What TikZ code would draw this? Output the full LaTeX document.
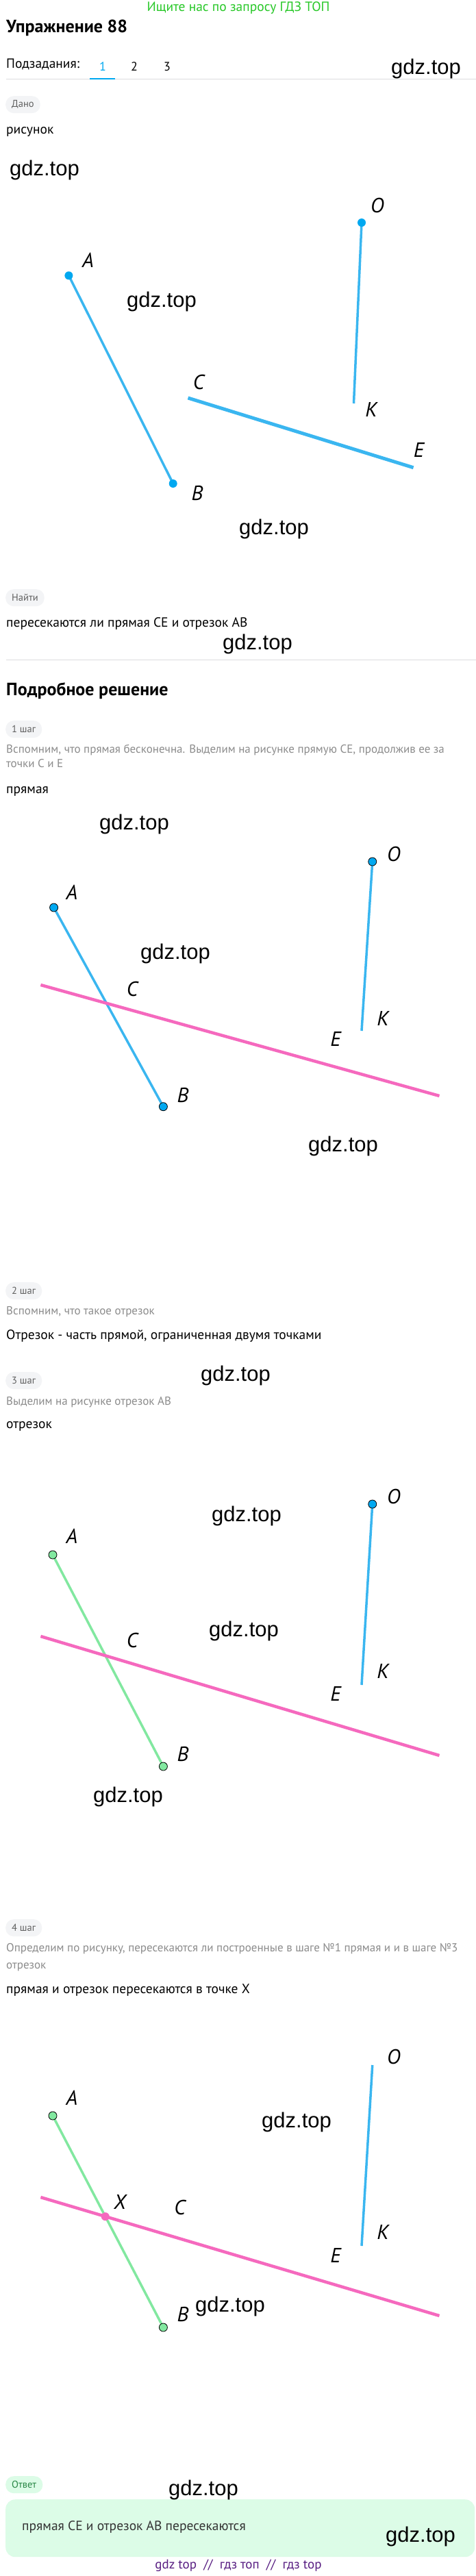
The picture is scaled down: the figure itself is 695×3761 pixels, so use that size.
\documentclass[tikz,border=0pt]{standalone}
\usepackage{fontspec}
\setmainfont{PT Sans}
\newfontfamily\wmfont{Liberation Sans}
\definecolor{segblue}{RGB}{58,182,240}
\definecolor{dotblue}{RGB}{0,168,240}
\definecolor{pinkln}{RGB}{245,105,190}
\definecolor{greenln}{RGB}{130,232,160}
\definecolor{pillgray}{RGB}{243,244,246}
\definecolor{pilltext}{RGB}{95,95,95}
\definecolor{notegray}{RGB}{140,140,140}
\definecolor{topgreen}{RGB}{40,200,40}
\definecolor{footpurple}{RGB}{88,30,130}
\definecolor{answerbg}{RGB}{220,252,231}
\definecolor{answertext}{RGB}{40,135,70}

\begin{document}
\begin{tikzpicture}[x=1pt,y=-1pt,
    pill/.style={fill=pillgray, text=pilltext, rounded corners=12pt, anchor=north west,
        minimum height=25pt, inner xsep=9pt, font=\fontsize{14.5}{16}\selectfont},
    body/.style={anchor=mid west, inner sep=0pt, font=\fontsize{19.5}{22}\selectfont},
    note/.style={body, text=notegray, font=\fontsize{17}{20}\selectfont},
    heading/.style={body, font=\bfseries\fontsize{26}{29}\selectfont},
    wm/.style={font=\wmfont\fontsize{31}{33}\selectfont, inner sep=0pt},
    lbl/.style={font=\itshape\fontsize{30}{32}\selectfont, inner sep=0pt},
    seg/.style={segblue, line width=3.5pt},
    greenseg/.style={greenln, line width=3.5pt},
    pinkseg/.style={pinkln, line width=4.5pt},
    ptdot/.style={circle, fill=dotblue, inner sep=0pt, minimum size=12pt},
    odot/.style={ptdot, draw=black, line width=0.8pt},
    gdot/.style={odot, fill=greenln}]
    \useasboundingbox[fill=white] (0,0) rectangle (695,3761);

    % Header
    \node[font=\fontsize{19.5}{21}\selectfont, text=topgreen] (ads) at (348,12) {Ищите нас по запросу ГДЗ ТОП};
    \node[heading] (title) at (9,45) {Упражнение 88};
    \node[body] (subs) at (9,97) {Подзадания:};
    \node[font=\fontsize{18}{20}\selectfont, text=dotblue] (tab1) at (150,97) {1};
    \node[font=\fontsize{18}{20}\selectfont] (tab2) at (196,97) {2};
    \node[font=\fontsize{18}{20}\selectfont] (tab3) at (244,97) {3};
    \coordinate (tabl) at (9,115);
    \coordinate (tabr) at (695,115);
    \draw[pillgray!80!gray, line width=1pt] (tabl) -- (tabr);
    \draw[dotblue, line width=2.5pt] (131,115) -- (168,115); % active tab
    \node[wm] (wm1) at (622,100) {gdz.top};

    % Given
    \node[pill] (given) at (8,140) {Дано};
    \node[body] (picture) at (9,193) {рисунок};
    \node[wm] (wm2) at (65,248) {gdz.top};

    % Figure 1
    \coordinate (A0) at (100.4,402.3);
    \coordinate (B0) at (252.7,706);
    \coordinate (C0) at (274.5,581);
    \coordinate (E0) at (603.6,682.7);
    \coordinate (O0) at (528,325);
    \coordinate (K0) at (516.5,589);
    \draw[seg] (A0) -- (B0);
    \draw[seg, line width=5pt] (C0) -- (E0);
    \draw[seg] (O0) -- (K0);
    \node[ptdot] (dA0) at (A0) {};
    \node[ptdot] (dB0) at (B0) {};
    \node[ptdot] (dO0) at (O0) {};
    \node[lbl] (lA0) at (128.6,380) {A};
    \node[lbl] (lB0) at (288,720) {B};
    \node[lbl] (lC0) at (290,558) {C};
    \node[lbl] (lE0) at (611.6,657) {E};
    \node[lbl] (lO0) at (551,300) {O};
    \node[lbl] (lK0) at (542,598) {K};
    \node[wm] (wm3) at (236,440) {gdz.top};
    \node[wm] (wm4) at (400,772) {gdz.top};

    % Find
    \node[pill] (find) at (8,860) {Найти};
    \node[body] (question) at (9,913) {пересекаются ли прямая CE и отрезок AB};
    \node[wm] (wm5) at (376,940) {gdz.top};
    \coordinate (sepl) at (9,963);
    \coordinate (sepr) at (695,963);
    \draw[pillgray!80!gray, line width=1pt] (sepl) -- (sepr);

    % Step 1
    \node[heading] (solution) at (9,1013) {Подробное решение};
    \node[pill] (step1) at (8,1052) {1 шаг};
    \node[note] (note1a) at (9,1097) {Вспомним, что прямая бесконечна. Выделим на рисунке прямую CE, продолжив ее за};
    \node[note] (note1b) at (9,1118) {точки C и E};
    \node[body] (res1) at (9,1156) {прямая};
    \node[wm] (wm6) at (196,1203) {gdz.top};

    \coordinate (A1) at (78.6,1325);
    \coordinate (B1) at (238.4,1615.7);
    \coordinate (O1) at (543.75,1258);
    \coordinate (K1) at (528,1505);
    \coordinate (P1) at (59.4,1438);
    \coordinate (Q1) at (641.5,1600);
    \draw[seg] (A1) -- (B1);
    \draw[seg] (O1) -- (K1);
    \draw[pinkseg] (P1) -- (Q1);
    \node[odot] (dA1) at (A1) {};
    \node[odot] (dB1) at (B1) {};
    \node[odot] (dO1) at (O1) {};
    \node[lbl] (lA1) at (105,1303) {A};
    \node[lbl] (lB1) at (267,1599) {B};
    \node[lbl] (lC1) at (193,1444) {C};
    \node[lbl] (lE1) at (490,1517) {E};
    \node[lbl] (lO1) at (575,1247) {O};
    \node[lbl] (lK1) at (559,1487) {K};
    \node[wm] (wm7) at (256,1392) {gdz.top};
    \node[wm] (wm8) at (501,1673) {gdz.top};

    % Step 2
    \node[pill] (step2) at (8,1872) {2 шаг};
    \node[note] (note2) at (9,1917) {Вспомним, что такое отрезок};
    \node[body] (res2) at (9,1953) {Отрезок - часть прямой, ограниченная двумя точками};
    \node[wm] (wm9) at (344,2008) {gdz.top};

    % Step 3
    \node[pill] (step3) at (8,2003) {3 шаг};
    \node[note] (note3) at (9,2049) {Выделим на рисунке отрезок AB};
    \node[body] (res3) at (9,2083) {отрезок};

    \coordinate (A3) at (77,2270);
    \coordinate (B3) at (238.4,2579);
    \coordinate (O3) at (543.75,2196);
    \coordinate (K3) at (528,2460);
    \coordinate (P3) at (59.4,2389);
    \coordinate (Q3) at (641.5,2563);
    \draw[greenseg] (A3) -- (B3);
    \draw[seg] (O3) -- (K3);
    \draw[pinkseg] (P3) -- (Q3);
    \node[gdot] (dA3) at (A3) {};
    \node[gdot] (dB3) at (B3) {};
    \node[odot] (dO3) at (O3) {};
    \node[lbl] (lA3) at (105,2243) {A};
    \node[lbl] (lB3) at (267,2561) {B};
    \node[lbl] (lC3) at (193,2395) {C};
    \node[lbl] (lE3) at (490,2473) {E};
    \node[lbl] (lO3) at (575,2185) {O};
    \node[lbl] (lK3) at (559,2440) {K};
    \node[wm] (wm10) at (360,2213) {gdz.top};
    \node[wm] (wm11) at (356,2381) {gdz.top};
    \node[wm] (wm12) at (187,2623) {gdz.top};

    % Step 4
    \node[pill] (step4) at (8,2802) {4 шаг};
    \node[note] (note4a) at (9,2847) {Определим по рисунку, пересекаются ли построенные в шаге №1 прямая и и в шаге №3};
    \node[note] (note4b) at (9,2872) {отрезок};
    \node[body] (res4) at (9,2908) {прямая и отрезок пересекаются в точке X};

    \coordinate (A4) at (77,3089);
    \coordinate (B4) at (238.4,3398);
    \coordinate (O4) at (543.75,3015);
    \coordinate (K4) at (528,3279);
    \coordinate (P4) at (59.4,3208);
    \coordinate (Q4) at (641.5,3381);
    \coordinate (X4) at (intersection of A4--B4 and P4--Q4);
    \draw[greenseg] (A4) -- (B4);
    \draw[seg] (O4) -- (K4);
    \draw[pinkseg] (P4) -- (Q4);
    \node[gdot] (dA4) at (A4) {};
    \node[gdot] (dB4) at (B4) {};
    \node[ptdot, fill=pinkln] (dX4) at (X4) {};
    \node[lbl] (lA4) at (105,3063) {A};
    \node[lbl] (lB4) at (267,3379) {B};
    \node[lbl] (lC4) at (262.5,3223) {C};
    \node[lbl] (lX4) at (175,3215) {X};
    \node[lbl] (lE4) at (490,3293) {E};
    \node[lbl] (lO4) at (575,3003) {O};
    \node[lbl] (lK4) at (559,3259) {K};
    \node[wm] (wm13) at (433,3098) {gdz.top};
    \node[wm] (wm14) at (336,3367) {gdz.top};

    % Answer
    \node[pill, fill=answerbg, text=answertext] (answer) at (8,3615) {Ответ};
    \node[fill=answerbg, rounded corners=14pt, anchor=north west, minimum width=685pt, minimum height=84pt] (answerbox) at (8,3649) {};
    \node[body, text=black!80] (answertxt) at (32,3692) {прямая CE и отрезок AB пересекаются};
    \node[wm] (wm15) at (297,3635) {gdz.top};
    \node[wm] (wm16) at (614,3703) {gdz.top};
    \node[font=\fontsize{19}{21}\selectfont, text=footpurple] (footer) at (348,3746) {gdz top \ // \ гдз топ \ // \ гдз top};
\end{tikzpicture}
\end{document}
